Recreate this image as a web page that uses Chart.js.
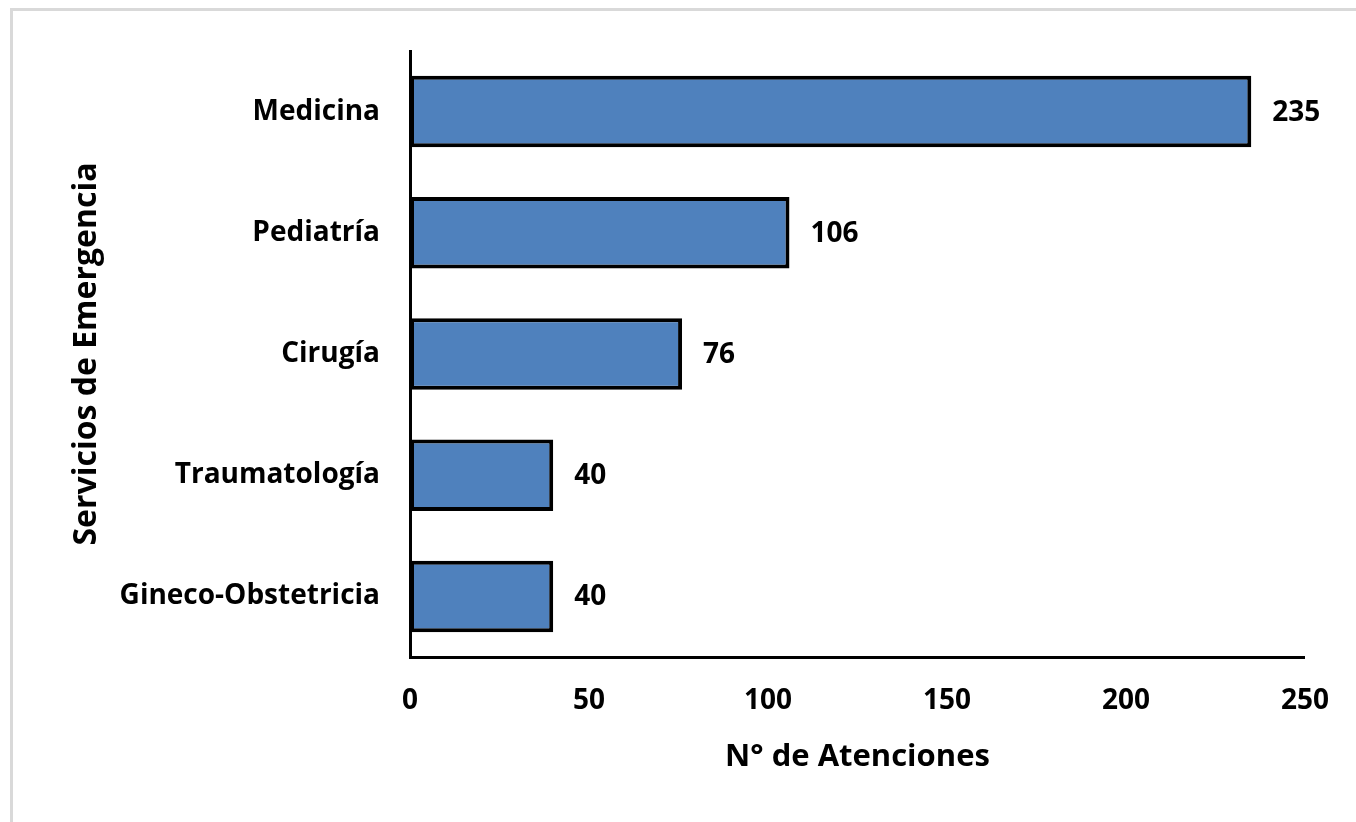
<!DOCTYPE html>
<html>
<head>
<meta charset="utf-8">
<script src="https://cdn.jsdelivr.net/npm/chart.js@4"></script>
<style>
  html, body { margin: 0; padding: 0; background: #fff; }
  .frame {
    position: absolute; left: 10px; top: 8px; right: 0; bottom: 0;
    border-top: 3px solid #d9d9d9; border-left: 3px solid #d9d9d9;
  }
  .wrap { position: absolute; left: 0; top: 0; width: 1356px; height: 822px; }
</style>
</head>
<body>
<div class="frame"></div>
<div class="wrap"><canvas id="chart" width="1356" height="822"></canvas></div>
<script>
/* datos */
const servicios = ['Medicina', 'Pediatría', 'Cirugía', 'Traumatología', 'Gineco-Obstetricia'];
const atenciones = [235, 106, 76, 40, 40];
const xTicks = [0, 50, 100, 150, 200, 250];

const FONT = '"Open Sans", Lato, sans-serif';

// etiquetas de valor al final de cada barra
const valueLabels = {
  id: 'valueLabels',
  afterDatasetsDraw(chart) {
    const ctx = chart.ctx;
    const meta = chart.getDatasetMeta(0);
    ctx.save();
    ctx.font = 'bold 28px ' + FONT;
    ctx.fillStyle = '#000';
    ctx.textAlign = 'left';
    ctx.textBaseline = 'middle';
    meta.data.forEach((bar, i) => {
      ctx.fillText(String(atenciones[i]), bar.x + 21, bar.y + 1);
    });
    ctx.restore();
  }
};

new Chart(document.getElementById('chart'), {
  type: 'bar',
  data: {
    labels: servicios,
    datasets: [{
      data: atenciones,
      backgroundColor: '#4f81bd',
      borderColor: '#000',
      borderWidth: 4,
      borderSkipped: false,
      categoryPercentage: 1,
      barPercentage: 0.59
    }]
  },
  options: {
    indexAxis: 'y',
    responsive: false,
    animation: false,
    layout: { padding: { top: 51, right: 49, left: 0, bottom: 0 } },
    plugins: { legend: { display: false }, tooltip: { enabled: false } },
    scales: {
      x: {
        min: 0, max: 250,
        afterBuildTicks: s => { s.ticks = xTicks.map(v => ({ value: v })); },
        afterFit: s => { s.height = 165; },
        grid: { display: false, drawTicks: false },
        border: { display: true, color: '#000', width: 3 },
        ticks: { color: '#000', padding: 27, font: { family: FONT, size: 28, weight: 'bold' } },
        title: {
          display: true, text: 'N° de Atenciones', color: '#000',
          font: { family: FONT, size: 31, weight: 'bold', lineHeight: 1.2 },
          padding: { top: 0, bottom: 46 }
        }
      },
      y: {
        afterFit: s => { s.width = 410; },
        grid: { display: false, drawTicks: false },
        border: { display: true, color: '#000', width: 3 },
        ticks: { color: '#000', padding: 30, font: { family: FONT, size: 28, weight: 'bold' } },
        title: {
          display: true, text: 'Servicios de Emergencia', color: '#000',
          font: { family: FONT, size: 32, weight: 'bold', lineHeight: 1.2 },
          padding: { top: 68, bottom: 0 }
        }
      }
    }
  },
  plugins: [valueLabels]
});
</script>
</body>
</html>
